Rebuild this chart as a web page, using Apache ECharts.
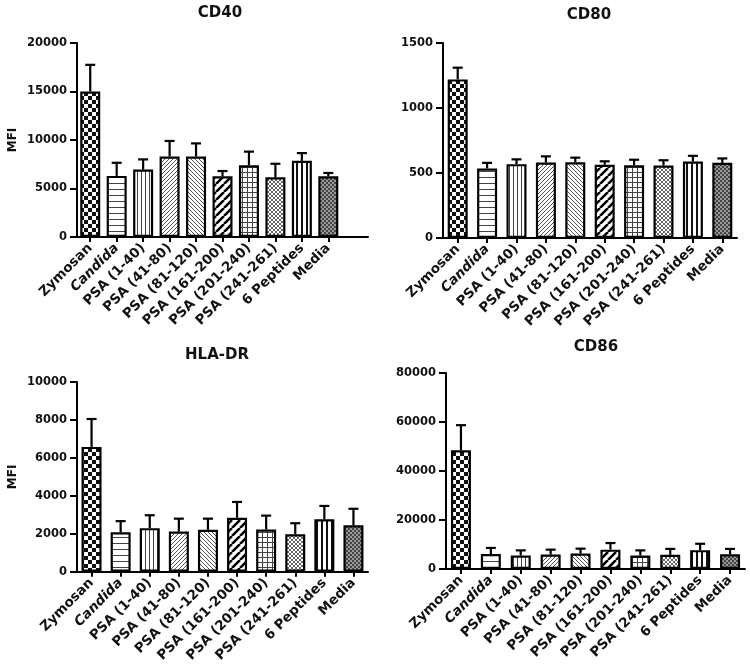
<!DOCTYPE html>
<html><head><meta charset="utf-8">
<script src="https://cdn.jsdelivr.net/npm/echarts@6/dist/echarts.min.js"></script>
<style>html,body{margin:0;padding:0;background:#fff}#c{width:750px;height:665px}</style>
</head><body><div id="c"></div>
<script>
// ---- data ----
const categories = ['Zymosan','Candida','PSA (1-40)','PSA (41-80)','PSA (81-120)','PSA (161-200)','PSA (201-240)','PSA (241-261)','6 Peptides','Media'];
const cd40Mean  = [15000, 6300, 6950, 8300, 8300, 6250, 7400, 6150, 7850, 6250];
const cd40Upper = [17750, 7650, 8000, 9900, 9650, 6800, 8800, 7550, 8650, 6600];
const cd80Mean  = [1220, 535, 568, 580, 582, 563, 560, 558, 588, 578];
const cd80Upper = [1310, 578, 605, 628, 618, 590, 602, 598, 632, 612];
const hlaMean   = [6580, 2080, 2300, 2120, 2210, 2850, 2230, 1980, 2770, 2450];
const hlaUpper  = [8050, 2670, 2980, 2800, 2800, 3680, 2960, 2560, 3470, 3320];
const cd86Mean  = [48500, 6100, 5500, 5900, 6300, 7900, 5500, 5800, 7700, 6000];
const cd86Upper = [58700, 8600, 7600, 7900, 8300, 10600, 7600, 8200, 10300, 8200];
const cd40Ticks = [0, 5000, 10000, 15000, 20000];
const cd80Ticks = [0, 500, 1000, 1500];
const hlaTicks  = [0, 2000, 4000, 6000, 8000, 10000];
const cd86Ticks = [0, 20000, 40000, 60000, 80000];
const titles = ['CD40', 'CD80', 'HLA-DR', 'CD86'];

// ---- pattern fills (style only) ----
function makePattern(kind) {
  const c = document.createElement('canvas');
  let s = 8;
  if (kind === 'hlines') s = 6;
  if (kind === 'vlines' || kind === 'diagR' || kind === 'diagL' || kind === 'fineChecker' || kind === 'crossFine') s = 4;
  if (kind === 'grid') s = 5;
  if (kind === 'vlinesWide') s = 5;
  c.width = s; c.height = s;
  const g = c.getContext('2d');
  g.fillStyle = '#fff'; g.fillRect(0, 0, s, s);
  g.strokeStyle = '#222'; g.fillStyle = '#111';
  const diag = (dir, lw, col) => {
    g.strokeStyle = col; g.lineWidth = lw; g.beginPath();
    for (let k = -s; k <= s; k += s) {
      if (dir > 0) { g.moveTo(k, s); g.lineTo(k + s, 0); }
      else { g.moveTo(k, 0); g.lineTo(k + s, s); }
    }
    g.stroke();
  };
  switch (kind) {
    case 'checker': g.fillRect(0, 0, 4, 4); g.fillRect(4, 4, 4, 4); break;
    case 'hlines': g.fillStyle = '#444'; g.fillRect(0, 3, s, 1); break;
    case 'vlines': g.fillStyle = '#444'; g.fillRect(1, 0, 1, s); break;
    case 'diagR': diag(1, 1, '#555'); break;
    case 'diagL': diag(-1, 1, '#555'); break;
    case 'thickDiag': diag(1, 2.6, '#000'); break;
    case 'grid': g.fillStyle = '#444'; g.fillRect(2, 0, 1, s); g.fillRect(0, 2, s, 1); break;
    case 'crossFine': diag(1, 1, '#666'); diag(-1, 1, '#666'); break;
    case 'vlinesWide': g.fillStyle = '#111'; g.fillRect(1, 0, 2, s); break;
    case 'fineChecker': g.fillStyle = '#444'; g.fillRect(0, 0, 2, 2); g.fillRect(2, 2, 2, 2); g.fillStyle='#999'; g.fillRect(2,0,2,2); g.fillRect(0,2,2,2); break;
  }
  return c;
}
const patternKinds = ['checker','hlines','vlines','diagR','diagL','thickDiag','grid','crossFine','vlinesWide','fineChecker'];
const patterns = patternKinds.map(makePattern);

const FONT = 'DejaVu Sans';
const panels = [
  { mean: cd40Mean, upper: cd40Upper, ticks: cd40Ticks, grid: { left: 77, top: 43, width: 291, height: 194 }, title: [215, 1], extraCat: true, name: 'MFI' },
  { mean: cd80Mean, upper: cd80Upper, ticks: cd80Ticks, grid: { left: 443, top: 43, width: 294, height: 195 }, title: [584, 3], extraCat: false, name: '' },
  { mean: hlaMean, upper: hlaUpper, ticks: hlaTicks, grid: { left: 77, top: 382, width: 291, height: 190 }, title: [212, 343], extraCat: false, name: 'MFI' },
  { mean: cd86Mean, upper: cd86Upper, ticks: cd86Ticks, grid: { left: 446, top: 373, width: 299, height: 196 }, title: [591, 335], extraCat: false, name: '' }
];

const option = { animation: false, backgroundColor: '#fff', title: [], grid: [], xAxis: [], yAxis: [], series: [] };
panels.forEach((p, k) => {
  option.title.push({ text: titles[k], left: p.title[0], top: p.title[1], textAlign: 'center',
    textStyle: { fontFamily: FONT, fontWeight: 'bold', fontSize: 15, color: '#111' } });
  option.grid.push(Object.assign({ containLabel: false }, p.grid));
  const cats = p.extraCat ? categories.concat(['']) : categories.slice();
  option.xAxis.push({
    type: 'category', gridIndex: k, data: cats, boundaryGap: true,
    axisLine: { lineStyle: { color: '#000', width: 2 } },
    axisTick: { show: true, alignWithLabel: true, length: 5, lineStyle: { color: '#000', width: 2 },
      interval: (i, v) => v !== '' },
    axisLabel: { interval: 0, rotate: 45, margin: 9, fontFamily: FONT, fontWeight: 'bold', fontSize: 13.5, color: '#111',
      formatter: v => v === 'Candida' ? '{i|Candida}' : v,
      rich: { i: { fontStyle: 'italic', fontWeight: 'bold', fontFamily: FONT, fontSize: 13.5, color: '#111' } } },
    splitLine: { show: false }
  });
  const t = p.ticks;
  option.yAxis.push({
    type: 'value', gridIndex: k, min: t[0], max: t[t.length - 1], interval: t[1] - t[0],
    name: p.name, nameLocation: 'middle', nameGap: 58, nameRotate: 90,
    nameTextStyle: { fontFamily: FONT, fontWeight: 'bold', fontSize: 12, color: '#111' },
    axisLine: { show: true, lineStyle: { color: '#000', width: 2 } },
    axisTick: { show: true, length: 7, lineStyle: { color: '#000', width: 2 } },
    axisLabel: { margin: 10, fontFamily: FONT, fontWeight: 'bold', fontSize: 11.5, color: '#111', formatter: v => String(v) },
    splitLine: { show: false }
  });
  option.series.push({
    type: 'bar', xAxisIndex: k, yAxisIndex: k, barWidth: 20, z: 2,
    data: p.mean.map((v, i) => ({ value: v, itemStyle: { color: { image: patterns[i], repeat: 'repeat' }, borderColor: '#000', borderWidth: 2.2 } }))
  });
  option.series.push({
    type: 'custom', xAxisIndex: k, yAxisIndex: k, z: 3,
    encode: { x: 0, y: [1, 2] },
    data: p.mean.map((v, i) => [i, v, p.upper[i]]),
    renderItem: (params, api) => {
      const x = api.value(0);
      const p0 = api.coord([x, api.value(1)]);
      const p1 = api.coord([x, api.value(2)]);
      const hw = 5;
      return { type: 'group', children: [
        { type: 'line', shape: { x1: p0[0], y1: p0[1], x2: p1[0], y2: p1[1] }, style: { stroke: '#000', lineWidth: 2.2 } },
        { type: 'line', shape: { x1: p1[0] - hw, y1: p1[1], x2: p1[0] + hw, y2: p1[1] }, style: { stroke: '#000', lineWidth: 2.2 } }
      ] };
    }
  });
});
const chart = echarts.init(document.getElementById('c'), null, { renderer: 'canvas' });
chart.setOption(option);
</script></body></html>
